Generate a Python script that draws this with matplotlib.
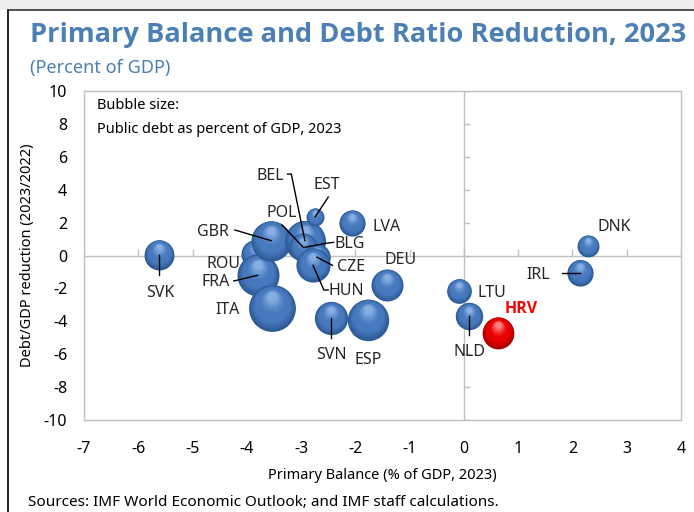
import numpy as np
import matplotlib
matplotlib.use("Agg")
import matplotlib.pyplot as plt
from matplotlib.lines import Line2D
from matplotlib.patches import Rectangle
from matplotlib.transforms import offset_copy
from matplotlib.colors import to_rgb
from matplotlib import font_manager

plt.rcParams['font.family'] = ['Noto Sans', 'DejaVu Sans']

# Country data: primary balance, debt ratio reduction, public debt (bubble size)
countries = ['ROU', 'FRA', 'ITA', 'GBR', 'SVK', 'BEL', 'EST', 'BLG', 'POL', 'CZE', 'HUN',
             'LVA', 'DEU', 'SVN', 'ESP', 'LTU', 'NLD', 'HRV', 'DNK', 'IRL']
primary_balance = [-3.85, -3.80, -3.53, -3.55, -5.62, -2.93, -2.74, -2.93, -2.96, -2.71, -2.78,
                   -2.06, -1.42, -2.45, -1.77, -0.09, 0.10, 0.63, 2.29, 2.14]
debt_reduction = [0.10, -1.20, -3.20, 0.90, 0.05, 0.90, 2.35, 0.50, 0.50, -0.10, -0.60,
                  1.97, -1.80, -3.80, -3.90, -2.15, -3.70, -4.70, 0.58, -1.05]
public_debt = [49, 110, 137, 101, 56, 105, 20, 23, 49, 44, 73,
               43, 64, 69, 107, 38, 47, 63, 30, 43]

# label text position and optional leader line (polyline ending at the point)
label_pos = {
    'SVK': (-5.60, -2.28), 'GBR': (-4.62, 1.42), 'ROU': (-4.43, -0.52), 'FRA': (-4.58, -1.61),
    'ITA': (-4.35, -3.31), 'BEL': (-3.57, 4.83), 'EST': (-2.52, 4.29), 'POL': (-3.35, 2.58),
    'BLG': (-2.10, 0.70), 'CZE': (-2.08, -0.70), 'HUN': (-2.16, -2.16), 'LVA': (-1.42, 1.73),
    'DEU': (-1.17, -0.27), 'SVN': (-2.45, -6.05), 'ESP': (-1.76, -6.35), 'LTU': (0.52, -2.28),
    'HRV': (1.05, -3.25), 'NLD': (0.10, -5.86), 'DNK': (2.77, 1.73), 'IRL': (1.37, -1.19),
}
leaders = {
    'SVK': [(-5.62, -1.20)],
    'GBR': [(-4.22, 1.55)],
    'FRA': [(-4.24, -1.55)],
    'BEL': [(-3.25, 4.95), (-3.18, 4.95)],
    'EST': [(-2.50, 3.55)],
    'POL': [(-3.35, 1.85)],
    'BLG': [(-2.40, 0.80), (-2.52, 0.75)],
    'CZE': [(-2.42, -0.60)],
    'HUN': [(-2.50, -2.10), (-2.58, -2.10)],
    'SVN': [(-2.45, -5.00)],
    'NLD': [(0.10, -4.85)],
    'IRL': [(1.81, -1.05)],
}

xticks = list(range(-7, 5))
yticks = list(range(-10, 11, 2))

# pick a family that really has a bold face
bold_family = 'DejaVu Sans'
for fam in ['Open Sans', 'Noto Sans', 'Lato', 'Liberation Sans']:
    try:
        fp = font_manager.findfont(font_manager.FontProperties(family=fam, weight='bold'),
                                   fallback_to_default=False)
        if 'bold' in fp.lower():
            bold_family = fam
            break
    except Exception:
        pass

fig = plt.figure(figsize=(6.94, 5.12), dpi=100)
fig.patch.set_facecolor('white')

# page frame
fig.add_artist(Rectangle((0, 1 - 10 / 512), 1, 10 / 512, transform=fig.transFigure,
                         facecolor='#ededed', edgecolor='none'))
fig.add_artist(Line2D([8 / 694, 8 / 694], [0, 1 - 10 / 512], color='black', lw=1.2))
fig.add_artist(Line2D([8 / 694, 1], [1 - 10 / 512, 1 - 10 / 512], color='#333333', lw=1.2))

ax = fig.add_axes([84 / 694, 1 - 420 / 512, 597 / 694, 329 / 512])
ax.set_xlim(-7, 4)
ax.set_ylim(-10, 10)
for sp in ax.spines.values():
    sp.set_color('#c0c0c0')
    sp.set_linewidth(1.0)
ax.set_xticks(xticks)
ax.set_yticks(yticks)
ax.set_xticklabels([str(t) for t in xticks])
ax.set_yticklabels([str(t) for t in yticks])
ax.tick_params(axis='x', length=0, pad=15, labelsize=11.5, colors='#000000')
ax.tick_params(axis='y', length=0, pad=12, labelsize=11.5, colors='#000000')

# zero lines with small tick marks
ax.axhline(0, color='#c0c0c0', lw=1.0, zorder=1)
ax.axvline(0, color='#c0c0c0', lw=1.0, zorder=1)
for t in xticks:
    ax.plot([t, t], [0, 0.32], color='#c0c0c0', lw=1.0, zorder=1)
for t in yticks:
    ax.plot([0, 0.09], [t, t], color='#c0c0c0', lw=1.0, zorder=1)


def mix(c1, c2, f):
    a, b = np.array(to_rgb(c1)), np.array(to_rgb(c2))
    return tuple(a + (b - a) * f)


def sphere(x, y, s, dark, base, light, z):
    r = np.sqrt(s) / 2
    n = 18
    for i in range(n):
        f = i / (n - 1)
        size = s * (1 - 0.8 * f) ** 2
        if f < 0.3:
            col = mix(dark, base, f / 0.3)
        elif f < 0.55:
            col = base
        else:
            col = mix(base, light, ((f - 0.55) / 0.45) ** 1.3)
        tr = offset_copy(ax.transData, fig=fig, x=0, y=r * 0.5 * f, units='points')
        ax.scatter([x], [y], s=size, color=col, transform=tr, zorder=z, linewidths=0)


for i, c in enumerate(countries):
    s = 8.3 * public_debt[i]
    if c == 'HRV':
        sphere(primary_balance[i], debt_reduction[i], s, '#a80000', '#e80000', '#ff8080', 3 + i * 0.01)
    else:
        sphere(primary_balance[i], debt_reduction[i], s, '#2d5a95', '#4679bd', '#86aee2', 3 + i * 0.01)

# leader lines and labels
for i, c in enumerate(countries):
    px, py = primary_balance[i], debt_reduction[i]
    if c in leaders:
        pts = leaders[c] + [(px, py)]
        ax.plot([p[0] for p in pts], [p[1] for p in pts], color='black', lw=1.0, zorder=5)
    lx, ly = label_pos[c]
    if c == 'HRV':
        ax.text(lx, ly, c, ha='center', va='center', fontsize=11.5, color='#ff0000',
                family=bold_family, fontweight='bold', zorder=6)
    else:
        ax.text(lx, ly, c, ha='center', va='center', fontsize=11.5, color='#262626', zorder=6)

ax.text(0.021, 0.955, 'Bubble size:', transform=ax.transAxes, fontsize=10.5,
        color='#000000', va='center')
ax.text(0.021, 0.882, 'Public debt as percent of GDP, 2023', transform=ax.transAxes,
        fontsize=10.5, color='#000000', va='center')

ax.set_xlabel('Primary Balance (% of GDP, 2023)', fontsize=10.5, labelpad=8)
ax.set_ylabel('Debt/GDP reduction (2023/2022)', fontsize=10.5, labelpad=6)

fig.text(30 / 694, 1 - 35 / 512, 'Primary Balance and Debt Ratio Reduction, 2023',
         fontsize=19.6, family=bold_family, fontweight='bold', color='#4c80b4',
         va='center', ha='left')
fig.text(30 / 694, 1 - 68 / 512, '(Percent of GDP)', fontsize=13, color='#4c80b4',
         va='center', ha='left')
fig.text(28 / 694, 1 - 503 / 512, 'Sources: IMF World Economic Outlook; and IMF staff calculations.',
         fontsize=11, color='#000000', va='center', ha='left')

fig.savefig('out.png', dpi=100)
